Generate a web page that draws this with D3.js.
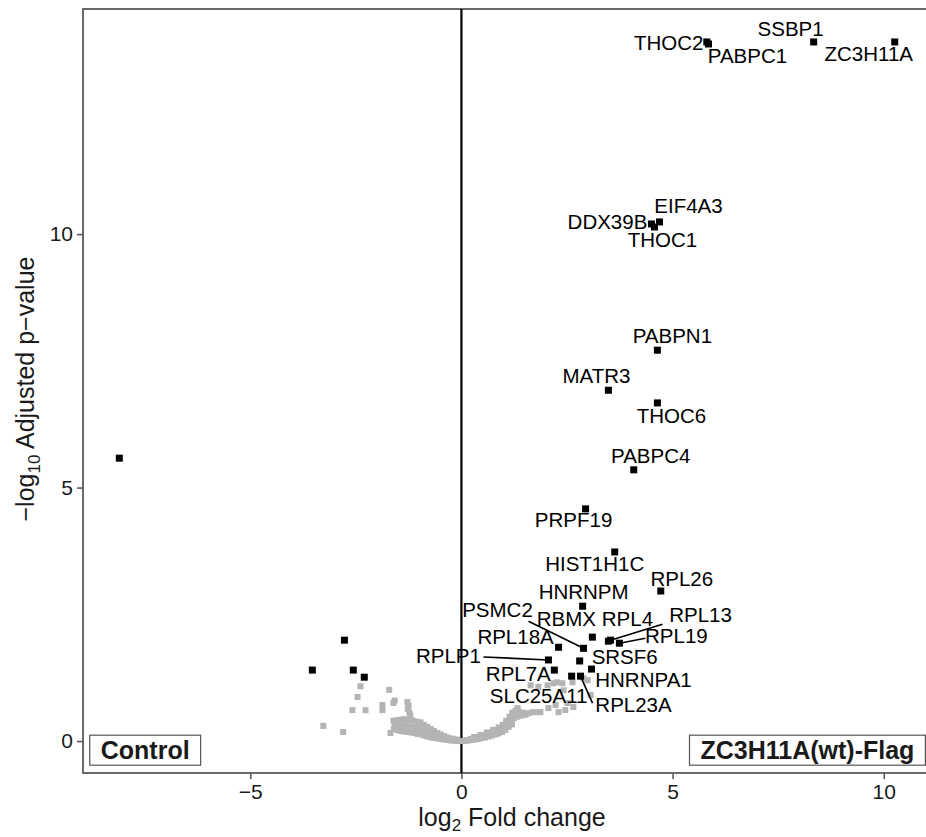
<!DOCTYPE html>
<html>
<head>
<meta charset="utf-8">
<script src="https://cdn.jsdelivr.net/npm/d3@7"></script>
<style>
  body { margin: 0; background: #fff; }
  svg { display: block; font-family: "Liberation Sans", Arial, Helvetica, sans-serif; }
</style>
</head>
<body>
<div id="chart"></div>
<script>
// log2 fold change / -log10 adjusted p for the labelled hits
const hitGenes = ["THOC2", "PABPC1", "SSBP1", "ZC3H11A", "EIF4A3", "DDX39B", "THOC1",
  "PABPN1", "MATR3", "THOC6", "PABPC4", "PRPF19", "HIST1H1C", "RPL26", "HNRNPM",
  "PSMC2", "RBMX", "RPL4", "RPL13", "RPL19", "RPL18A", "RPLP1", "SRSF6", "HNRNPA1",
  "RPL7A", "SLC25A11", "RPL23A"];
const hitFC = [5.81, 5.85, 8.34, 10.26, 4.69, 4.50, 4.57,
  4.64, 3.48, 4.64, 4.08, 2.94, 3.63, 4.72, 2.87,
  2.89, 3.10, 3.48, 3.53, 3.74, 2.30, 2.06, 2.80, 3.08,
  2.20, 2.61, 2.82];
const hitP = [13.79, 13.75, 13.79, 13.79, 10.24, 10.20, 10.14,
  7.71, 6.92, 6.67, 5.35, 4.58, 3.73, 2.96, 2.66,
  1.83, 2.05, 1.97, 1.99, 1.93, 1.85, 1.60, 1.58, 1.42,
  1.40, 1.28, 1.28];

// significant but unlabelled (control side)
const ctrlFC = [-8.10, -2.77, -3.53, -2.56, -2.30];
const ctrlP = [5.58, 1.99, 1.40, 1.40, 1.26];

// not significant
const nsPoints = [
  [-1.60,0.24],[-1.52,0.22],[-1.44,0.20],[-1.36,0.19],[-1.28,0.18],[-1.20,0.17],[-1.12,0.16],
  [-1.04,0.14],[-0.96,0.13],[-0.88,0.11],[-0.80,0.09],[-0.72,0.07],[-0.64,0.06],[-0.56,0.05],
  [-0.48,0.04],[-0.40,0.03],[-0.32,0.02],[-0.24,0.01],[-0.16,0.01],[-0.08,0.00],[0.00,0.00],
  [-1.58,0.32],[-1.50,0.30],[-1.42,0.31],[-1.34,0.30],[-1.26,0.29],[-1.18,0.28],[-1.10,0.27],
  [-1.02,0.26],[-0.94,0.24],[-0.86,0.21],[-0.78,0.18],[-0.70,0.15],[-0.62,0.12],[-0.54,0.10],
  [-0.46,0.08],[-0.38,0.06],[-0.30,0.04],[-0.20,0.03],[-0.10,0.02],
  [-1.61,0.40],[-1.53,0.41],[-1.45,0.42],[-1.37,0.43],[-1.29,0.42],[-1.21,0.41],[-1.13,0.40],
  [-1.05,0.38],[-0.97,0.37],[-0.89,0.32],[-0.81,0.28],[-0.73,0.24],[-0.65,0.20],[-0.57,0.16],
  [-0.49,0.13],[-0.41,0.10],[-0.33,0.07],[-0.22,0.05],[-0.12,0.03],
  [-1.28,0.77],[-1.25,0.70],[-1.27,0.63],[-1.23,0.56],[-1.21,0.50],
  [-2.39,1.08],[-2.46,0.87],[-2.58,0.61],[-2.27,0.61],[-3.27,0.30],[-2.80,0.18],[-1.71,1.01],
  [-1.87,0.71],[-1.87,0.61],[-1.61,0.75],[-1.58,0.80],[-1.68,0.16],
  [0.08,0.00],[0.16,0.01],[0.24,0.02],[0.32,0.03],[0.40,0.04],[0.48,0.06],[0.56,0.07],
  [0.64,0.09],[0.72,0.11],[0.80,0.13],[0.88,0.15],[0.96,0.18],[1.04,0.22],[1.12,0.28],[1.20,0.33],
  [0.12,0.02],[0.22,0.04],[0.32,0.06],[0.42,0.08],[0.52,0.11],[0.62,0.14],[0.72,0.17],
  [0.82,0.20],[0.92,0.24],[1.00,0.28],[1.08,0.34],[1.16,0.40],[1.24,0.45],[1.32,0.48],
  [1.42,0.50],[1.52,0.52],
  [0.30,0.08],[0.45,0.12],[0.60,0.17],[0.75,0.22],[0.88,0.27],[0.98,0.32],[1.06,0.40],
  [1.14,0.48],[1.20,0.56],[1.28,0.60],[1.36,0.58],[1.46,0.56],[1.60,0.55],[1.68,0.57],
  [1.87,0.57],[2.06,0.65],[2.23,0.71],[2.30,0.57],[2.51,0.75],[2.65,0.67],[2.46,0.61],
  [1.64,1.10],[1.82,1.07],[2.04,1.10],[2.18,1.14],[2.27,1.16],[2.39,1.14],[2.42,1.00],
  [2.63,1.16],[2.89,1.24],[2.99,1.20],[3.06,0.91],[1.33,0.65],[1.80,0.57]
];

const xTicks = [-5, 0, 5, 10];
const yTicks = [0, 5, 10];

// repel layout: label centre offset (dx, dy) and optional segment start (sx, sy), px from point
const labelNudge = {
  THOC2: [-38, 8], PABPC1: [39, 19], SSBP1: [-23, -6], ZC3H11A: [-26, 19],
  EIF4A3: [29, -9], DDX39B: [-44, 5], THOC1: [8, 20], PABPN1: [15, -7],
  MATR3: [-12, -7], THOC6: [14, 20], PABPC4: [17, -7], PRPF19: [-12, 18],
  HIST1H1C: [-20, 19], RPL26: [21, -5], HNRNPM: [1, -7],
  PSMC2: [-86, -31, -55, -27], RBMX: [-26, -11], RPL4: [19, -15],
  RPL13: [90, -18, 52, -16], RPL19: [57, 0, 26, -5], RPL18A: [-43, -3],
  RPLP1: [-100, 3, -65, -3], SRSF6: [45, 3], HNRNPA1: [52, 18], RPL7A: [-36, 11],
  SLC25A11: [-33, 27], RPL23A: [53, 36, 12, 27]
};

const groupLabels = [
  { text: "Control", x: -8.8, y: -0.18 },
  { text: "ZC3H11A(wt)-Flag", x: 5.4, y: -0.18 }
];

const width = 926, height = 837;
const x = d3.scaleLinear().domain([-8.96, 11.0]).range([83, 926]);
const y = d3.scaleLinear().domain([-0.63, 14.44]).range([773, 9]);

const svg = d3.select("#chart").append("svg")
  .attr("width", width)
  .attr("height", height);

const axisColor = "#5a5a5a";

// y axis
const yAxis = svg.append("g")
  .attr("transform", "translate(83,0)")
  .call(d3.axisLeft(y).tickValues(yTicks).tickSize(6).tickPadding(4));
yAxis.select(".domain").remove();
yAxis.selectAll("line").attr("stroke", axisColor).attr("stroke-width", 1.6);
yAxis.selectAll("text").attr("font-size", 21).attr("fill", "#1a1a1a")
  .attr("font-family", "Liberation Sans, Arial, sans-serif");

// x axis
const xAxis = svg.append("g")
  .attr("transform", "translate(0,773)")
  .call(d3.axisBottom(x).tickValues(xTicks).tickSize(6).tickPadding(5));
xAxis.select(".domain").remove();
xAxis.selectAll("line").attr("stroke", axisColor).attr("stroke-width", 1.6);
xAxis.selectAll("text").attr("font-size", 21).attr("fill", "#1a1a1a")
  .attr("font-family", "Liberation Sans, Arial, sans-serif");

// panel border
svg.append("rect")
  .attr("x", x.range()[0])
  .attr("y", y.range()[1])
  .attr("width", 860)
  .attr("height", y.range()[0] - y.range()[1])
  .attr("fill", "none")
  .attr("stroke", axisColor)
  .attr("stroke-width", 1.8);

// zero line
svg.append("line")
  .attr("x1", x(0)).attr("x2", x(0))
  .attr("y1", y.range()[1]).attr("y2", y.range()[0])
  .attr("stroke", "#000")
  .attr("stroke-width", 2.2);

// grey points
const gs = 6;
svg.append("g").selectAll("rect")
  .data(nsPoints)
  .enter().append("rect")
  .attr("x", d => x(d[0]) - gs / 2)
  .attr("y", d => y(d[1]) - gs / 2)
  .attr("width", gs).attr("height", gs)
  .attr("fill", "#b4b4b4");

const hits = hitGenes.map((g, i) => ({ gene: g, fc: hitFC[i], p: hitP[i] }));
const ctrl = ctrlFC.map((v, i) => ({ fc: v, p: ctrlP[i] }));

// segments
svg.append("g").selectAll("line")
  .data(hits.filter(d => labelNudge[d.gene].length > 2))
  .enter().append("line")
  .attr("x1", d => x(d.fc) + labelNudge[d.gene][2])
  .attr("y1", d => y(d.p) + labelNudge[d.gene][3])
  .attr("x2", d => x(d.fc))
  .attr("y2", d => y(d.p))
  .attr("stroke", "#000")
  .attr("stroke-width", 1.6);

// black points
const bs = 7;
svg.append("g").selectAll("rect")
  .data(hits.concat(ctrl))
  .enter().append("rect")
  .attr("x", d => x(d.fc) - bs / 2)
  .attr("y", d => y(d.p) - bs / 2)
  .attr("width", bs).attr("height", bs)
  .attr("fill", "#000");

// gene labels
svg.append("g").selectAll("text")
  .data(hits)
  .enter().append("text")
  .attr("x", d => x(d.fc) + labelNudge[d.gene][0])
  .attr("y", d => y(d.p) + labelNudge[d.gene][1])
  .attr("text-anchor", "middle")
  .attr("font-size", 20.5)
  .attr("fill", "#000")
  .text(d => d.gene);

// group boxes
groupLabels.forEach(g => {
  const grp = svg.append("g");
  const box = grp.append("rect");
  const t = grp.append("text")
    .attr("x", x(g.x) + 11)
    .attr("y", y(g.y))
    .attr("dy", "0.36em")
    .attr("font-size", 25)
    .attr("font-weight", "bold")
    .attr("fill", "#1a1a1a")
    .text(g.text);
  const b = t.node().getBBox();
  box.attr("x", x(g.x))
    .attr("y", y(g.y) - 15)
    .attr("width", b.width + 22)
    .attr("height", 30)
    .attr("fill", "#fff")
    .attr("stroke", "#555")
    .attr("stroke-width", 1.2);
});

// axis titles
const xt = svg.append("text")
  .attr("x", 512)
  .attr("y", 826)
  .attr("text-anchor", "middle")
  .attr("font-size", 25)
  .attr("fill", "#1a1a1a");
xt.append("tspan").text("log");
xt.append("tspan").attr("font-size", 17).attr("dy", 5).text("2");
xt.append("tspan").attr("dy", -5).text(" Fold change");

const yt = svg.append("text")
  .attr("transform", "translate(34,389) rotate(-90)")
  .attr("text-anchor", "middle")
  .attr("font-size", 25)
  .attr("fill", "#1a1a1a");
yt.append("tspan").text("\u2212log");
yt.append("tspan").attr("font-size", 17).attr("dy", 6).text("10");
yt.append("tspan").attr("dy", -6).text(" Adjusted p\u2212value");
</script>
</body>
</html>
